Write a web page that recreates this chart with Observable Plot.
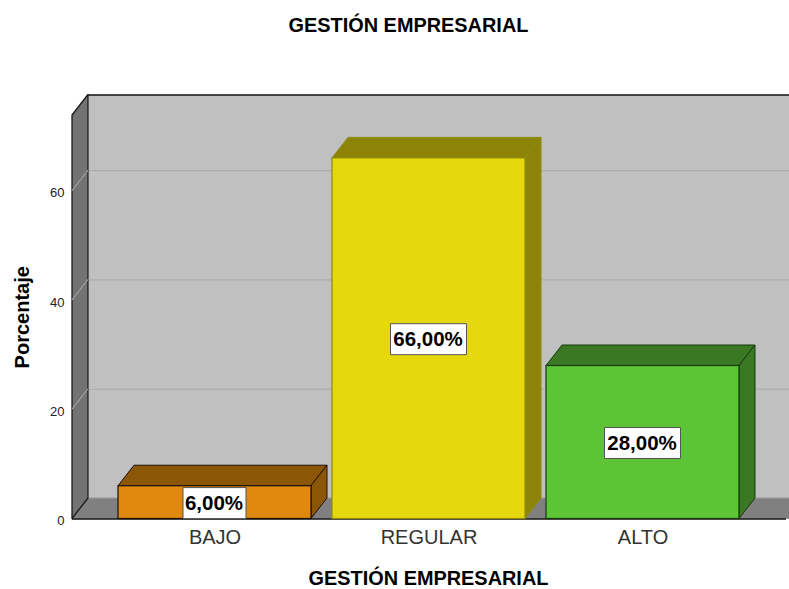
<!DOCTYPE html>
<html><head><meta charset="utf-8">
<script src="https://cdn.jsdelivr.net/npm/d3@7"></script>
<script src="https://cdn.jsdelivr.net/npm/@observablehq/plot@0.6"></script>
<style>
html,body{margin:0;padding:0;background:#fff;overflow:hidden}
#title{height:50px;width:817px;text-align:center;font:bold 19.9px/50px "Liberation Sans",sans-serif;color:#000;white-space:nowrap}
svg{display:block}
</style></head><body>
<div id="title">GESTIÓN EMPRESARIAL</div>
<div id="chart"></div>
<script>
const categories = ["BAJO", "REGULAR", "ALTO"];
const percentages = [6, 66, 28];
const labels = ["6,00%", "66,00%", "28,00%"];
const frontColors = ["#E1880F", "#E5D80C", "#5DC437"];
const shadeColors = ["#8B5608", "#8C8406", "#3A7823"];
const edgeColors = ["#1c1204", "#8f8a10", "#173a0c"];
const yTicks = [0, 20, 40, 60];
const yTop = 73.85;
const axisTitleX = "GESTIÓN EMPRESARIAL";
const axisTitleY = "Porcentaje";

const rows = categories.map((c, i) => ({c, v: percentages[i], label: labels[i], front: frontColors[i], shade: shadeColors[i], edge: edgeColors[i]}));
const DX = 16, DY = -20.5, FONT = '"Liberation Sans", sans-serif';

const NS = "http://www.w3.org/2000/svg";
const bw = s => typeof s.bandwidth === "function" ? s.bandwidth() : s.bandwidth;
function poly(g, pts, fill, stroke, sw = 1) {
  const p = document.createElementNS(NS, "path");
  p.setAttribute("d", "M" + pts.map(q => q.join(",")).join("L") + "Z");
  p.setAttribute("fill", fill);
  p.setAttribute("stroke", stroke);
  p.setAttribute("stroke-width", sw);
  p.setAttribute("stroke-linejoin", "round");
  g.appendChild(p);
}
const group = () => document.createElementNS(NS, "g");

const walls = (i, s, v, d) => {
  const g = group();
  const x0 = d.marginLeft, x1 = d.width - d.marginRight, y0 = s.y(0), yT = s.y(yTop);
  poly(g, [[x0, y0], [x0 + DX, y0 + DY], [x1 + DX + 20, y0 + DY], [x1 + 20, y0]], "#808080", "#9a9a9a");
  poly(g, [[x0, yT], [x0 + DX, yT + DY], [x0 + DX, y0 + DY], [x0, y0]], "#737373", "#1a1a1a", 1.3);
  for (const t of yTicks.slice(1)) {
    poly(g, [[x0, s.y(t)], [x0 + DX, s.y(t) + DY]], "none", "#a2a2a2");
  }
  return g;
};

const sides = (i, s) => {
  const g = group();
  const w = bw(s.x);
  for (const r of rows) {
    const x = s.x(r.c), y = s.y(r.v), b = s.y(0);
    poly(g, [[x, y], [x + DX, y + DY], [x + w + DX, y + DY], [x + w, y]], r.shade, r.edge);
    poly(g, [[x + w, y], [x + w + DX, y + DY], [x + w + DX, b + DY], [x + w, b]], r.shade, r.edge);
  }
  return g;
};

const boxes = (i, s) => {
  const g = group();
  const w = bw(s.x);
  for (const r of rows) {
    const cx = s.x(r.c) + w / 2, cy = s.y(r.v / 2) + 1;
    const bw2 = r.label.length === 5 ? 31.5 : 38, bh = 15.5;
    poly(g, [[cx - bw2, cy - bh], [cx + bw2, cy - bh], [cx + bw2, cy + bh], [cx - bw2, cy + bh]], "#fff", "#555");
  }
  return g;
};

const plot = Plot.plot({
  width: 789, height: 539,
  marginLeft: 72, marginRight: 3, marginTop: 65, marginBottom: 70.5,
  style: {fontFamily: FONT, color: "#000", background: "#fff"},
  x: {type: "band", domain: categories, paddingInner: 0.098, paddingOuter: 0.215, label: null},
  y: {domain: [0, yTop], label: null},
  marks: [
    Plot.frame({fill: "#c0c0c0", stroke: "none", dx: DX, dy: DY}),
    Plot.ruleY(yTicks.slice(1), {stroke: "#a9a9a9", dx: DX, dy: DY}),
    Plot.ruleY([yTop], {stroke: "#111", strokeWidth: 1.3, dx: DX, dy: DY}),
    walls,
    Plot.ruleY([0], {stroke: "#111", strokeWidth: 1.3}),
    sides,
    Plot.barY(rows, {x: "c", y: "v", fill: "front", stroke: "edge", strokeWidth: 1.2}),
    Plot.axisY({ticks: yTicks, tickSize: 0, tickPadding: 8, fontSize: 13, dy: 2, label: null, fill: "#222"}),
    Plot.axisX({tickSize: 0, tickPadding: 11, fontSize: 20, label: null, letterSpacing: "1px", fill: "#333"}),
    boxes,
    Plot.text(rows, {x: "c", y: d => d.v / 2, text: "label", fontSize: 20.5, fontWeight: "bold", fill: "#000", dx: -1, dy: 1}),
    Plot.text([axisTitleY], {text: d => d, frameAnchor: "left", textAnchor: "middle", rotate: -90, dx: -50, fontSize: 20, fontWeight: "bold", fill: "#000"}),
    Plot.text([axisTitleX], {text: d => d, frameAnchor: "bottom", dx: -1, dy: 59.5, lineAnchor: "middle", fontSize: 19.9, fontWeight: "bold", fill: "#000"})
  ]
});
document.getElementById("chart").appendChild(plot);
</script>
</body></html>
